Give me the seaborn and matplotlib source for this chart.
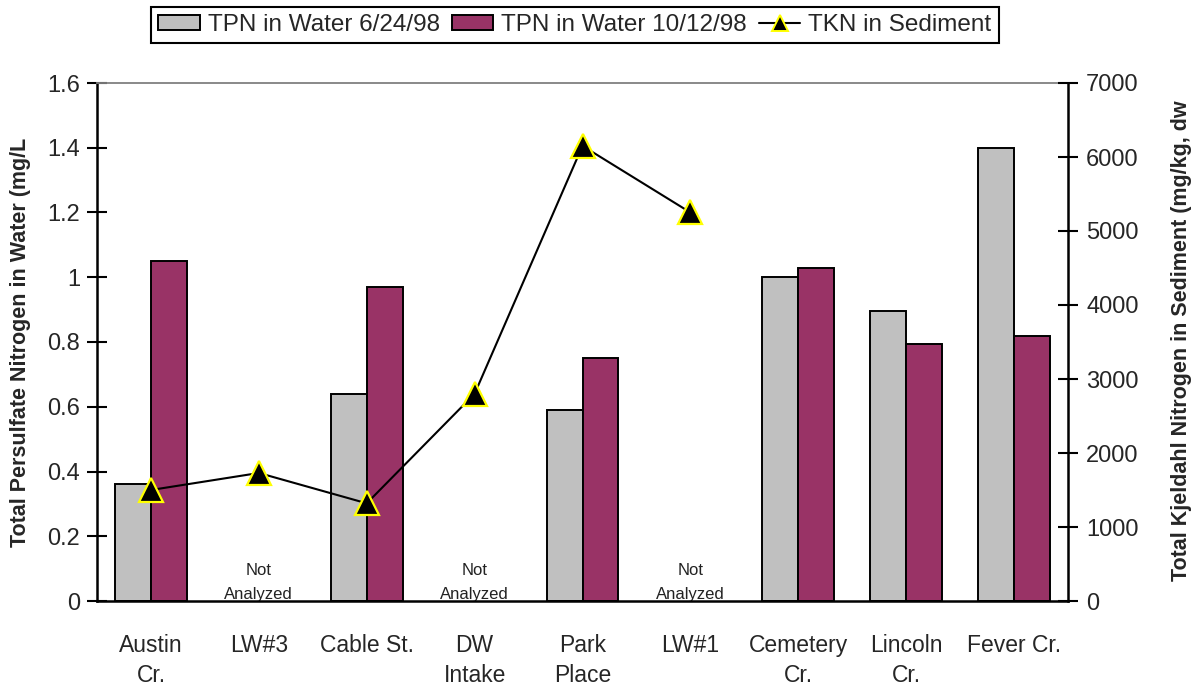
import numpy as np
import pandas as pd
import matplotlib
matplotlib.use("Agg")
import matplotlib.pyplot as plt
from matplotlib.patches import Patch
from matplotlib.lines import Line2D
from matplotlib.ticker import FuncFormatter, MultipleLocator
import seaborn as sns

# ---- data -------------------------------------------------------------
sites = ["Austin\nCr.", "LW#3", "Cable St.", "DW\nIntake", "Park\nPlace",
         "LW#1", "Cemetery\nCr.", "Lincoln\nCr.", "Fever Cr."]
tpn_jun = [0.36, np.nan, 0.64, np.nan, 0.59, np.nan, 1.00, 0.895, 1.40]
tpn_oct = [1.05, np.nan, 0.97, np.nan, 0.75, np.nan, 1.03, 0.795, 0.82]
tkn_sed = [1500, 1730, 1320, 2800, 6150, 5250, np.nan, np.nan, np.nan]
not_analyzed = ["LW#3", "DW\nIntake", "LW#1"]
water_labels = ["TPN in Water 6/24/98", "TPN in Water 10/12/98"]
sed_label = "TKN in Sediment"
left_title = "Total Persulfate Nitrogen in Water (mg/L"
right_title = "Total Kjeldahl Nitrogen in Sediment (mg/kg, dw"

GRAY = "#C0C0C0"
MAROON = "#993366"

sns.set_theme(style="white")
plt.rcParams["font.family"] = ["Liberation Sans", "DejaVu Sans"]

water = pd.DataFrame({
    "site": sites * 2,
    "tpn": tpn_jun + tpn_oct,
    "survey": [water_labels[0]] * len(sites) + [water_labels[1]] * len(sites),
}).dropna()

sed = pd.DataFrame({"pos": np.arange(len(sites)), "tkn": tkn_sed}).dropna()

fig = plt.figure(figsize=(11.91, 6.90), dpi=100)
ax = fig.add_axes([97 / 1191, 1 - 601 / 690, (1068 - 97) / 1191, (601 - 83) / 690])

sns.barplot(data=water, x="site", y="tpn", hue="survey", order=sites,
            hue_order=water_labels, palette=[GRAY, MAROON], saturation=1,
            width=2 / 3, edgecolor="black", linewidth=1.4, errorbar=None,
            legend=False, ax=ax)

ax2 = ax.twinx()
sns.lineplot(data=sed, x="pos", y="tkn", ax=ax2, color="black", linewidth=1.5,
             marker="^", markersize=17, markerfacecolor="black",
             markeredgecolor="#FFFF00", markeredgewidth=1.6, errorbar=None,
             legend=False)

# ---- axes scales -------------------------------------------------------
ax.set_xlim(-0.5, len(sites) - 0.5)
ax.set_ylim(0, 1.6)
ax.yaxis.set_major_locator(MultipleLocator(0.2))
ax.yaxis.set_major_formatter(FuncFormatter(lambda v, _: f"{v:g}"))
ax2.set_ylim(0, 7000)
ax2.yaxis.set_major_locator(MultipleLocator(1000))

# category ticks sit between groups, names are centred under each group
ax.set_xticks(np.arange(-0.5, len(sites), 1.0))
ax.set_xticklabels([""] * (len(sites) + 1))
ax.set_xticks(np.arange(len(sites)), minor=True)
ax.set_xticklabels(sites, minor=True, fontsize=16.5, linespacing=1.38)
ax.tick_params(axis="x", which="minor", length=0, pad=24)
ax.tick_params(axis="x", which="major", direction="inout", length=13,
               width=1.5, color="black")
ax.tick_params(axis="y", direction="inout", length=14, width=1.5,
               color="black", labelsize=17, pad=5, left=True)
ax2.tick_params(axis="y", direction="inout", length=14, width=1.5,
                color="black", labelsize=17, pad=6, right=True)
ax.set_xlabel("")
ax.set_ylabel("")
ax2.set_xlabel("")
ax2.set_ylabel("")

for name in ["left", "bottom"]:
    ax.spines[name].set_color("black")
    ax.spines[name].set_linewidth(1.8)
ax.spines["top"].set_color("#808080")
ax.spines["top"].set_linewidth(1.3)
ax.spines["right"].set_visible(False)
for name in ["left", "bottom", "top"]:
    ax2.spines[name].set_visible(False)
ax2.spines["right"].set_color("black")
ax2.spines["right"].set_linewidth(1.8)

# notes for stations without water samples
for s in not_analyzed:
    i = sites.index(s)
    ax.text(i, 0.093, "Not", ha="center", va="center", fontsize=12,
            color="#222222", zorder=2, clip_on=True)
    ax.text(i, 0.019, "Analyzed", ha="center", va="center", fontsize=12,
            color="#222222", zorder=2, clip_on=True)

# axis titles
fig.text(21 / 1191, 1 - 342 / 690, left_title, rotation=90, ha="center",
         va="center", fontsize=15.5, fontweight="bold")
fig.text(1181 / 1191, 1 - 341 / 690, right_title, rotation=90, ha="center",
         va="center", fontsize=15.5, fontweight="bold")

# legend
handles = [
    Patch(facecolor=GRAY, edgecolor="black", linewidth=1.4),
    Patch(facecolor=MAROON, edgecolor="black", linewidth=1.4),
    Line2D([0], [0], color="black", linewidth=1.5, marker="^", markersize=11,
           markerfacecolor="black", markeredgecolor="#FFFF00",
           markeredgewidth=1.4),
]
leg = fig.legend(handles, water_labels + [sed_label], loc="center",
                 bbox_to_anchor=(575 / 1191, 1 - 25 / 690), ncol=3,
                 frameon=True, fancybox=False, edgecolor="black",
                 framealpha=1, fontsize=17.5, borderpad=0.3, handlelength=1.7,
                 handleheight=0.6, handletextpad=0.33, columnspacing=0.5,
                 borderaxespad=0)
leg.get_frame().set_linewidth(1.5)

fig.savefig("out.png", dpi=100)
